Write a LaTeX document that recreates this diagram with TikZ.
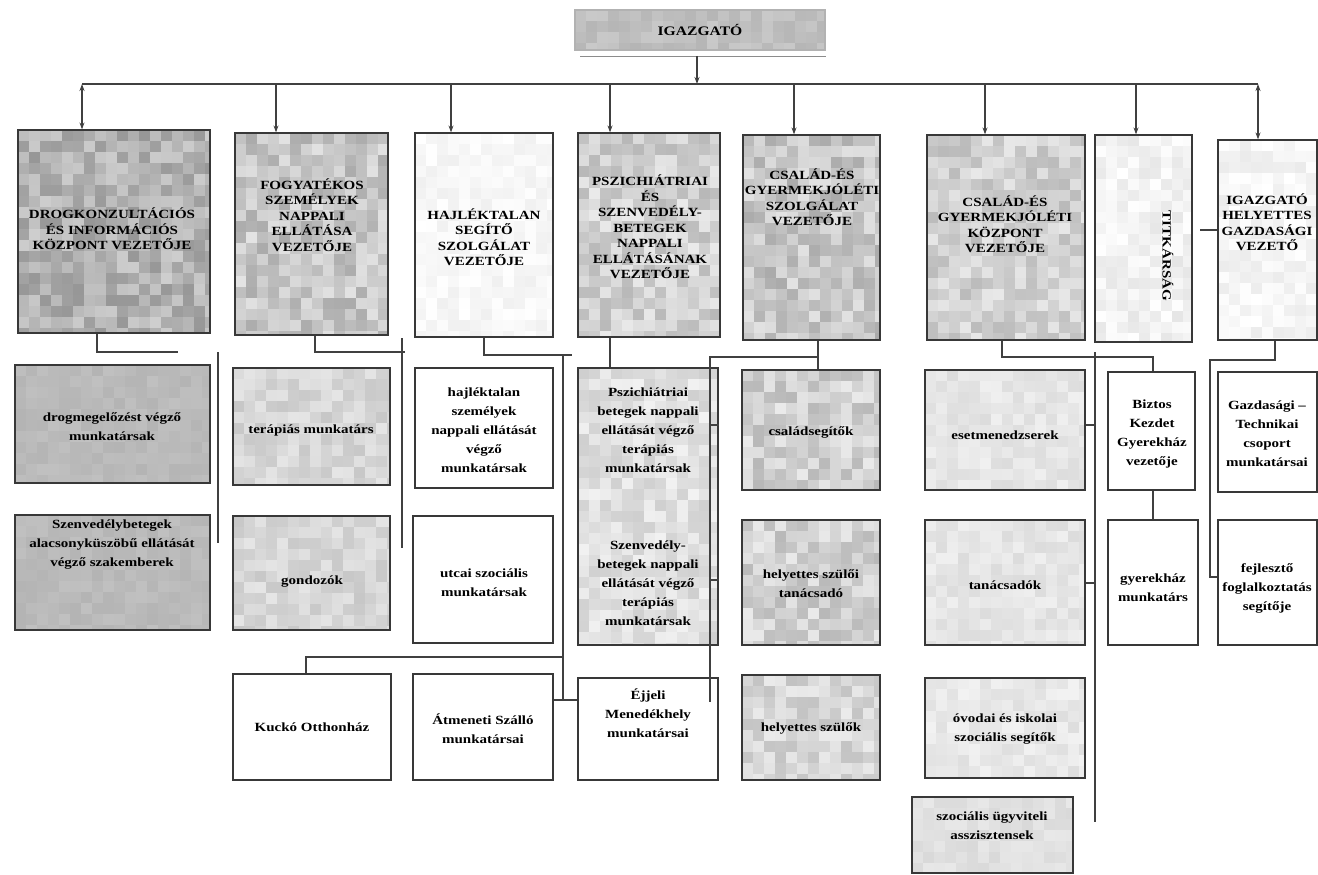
\documentclass[tikz,border=0pt]{standalone}
\usepackage{fontspec}
\setmainfont{Liberation Serif}
\newfontfamily\bxf[FakeStretch=1.2,Ligatures=TeX]{Liberation Serif}
\usetikzlibrary{arrows.meta}
\newcommand\mymosaic[6]{%
 \begin{scope}
  \clip (#1,#2) rectangle (#3,#4);
  \pgfmathtruncatemacro\mnx{((#3)-(#1))/11}
  \pgfmathtruncatemacro\mny{((#4)-(#2))/11}
  \foreach \mi in {0,...,\mnx}{\foreach \mj in {0,...,\mny}{%
    \pgfmathsetmacro\mv{max(0,min(100,(#5)+(#6)*(rnd-0.5)))}%
    \fill[black!\mv] ({(#1)+\mi*11},{(#2)+\mj*11}) rectangle ++(11,11);}}
 \end{scope}}
\newcommand\bnode[6]{\node[obox,#6,minimum width={(#4)-(#2)},minimum height={(#5)-(#3)}] (#1) at ({((#2)+(#4))/2},{((#3)+(#5))/2}) {};}
\begin{document}
\begin{tikzpicture}[x=1pt,y=-1pt,
  obox/.style={draw=black!78,line width=1.2pt,inner sep=0pt},
  ohdr/.style={inner sep=0pt,align=center,font=\bxf\bfseries\fontsize{12.5}{15.5}\selectfont},
  otxt/.style={inner sep=0pt,align=center,font=\bxf\bfseries\fontsize{12.5}{19}\selectfont},
  oline/.style={draw=black!75,line width=1.2pt},
  oarrow/.style={oline,-{Stealth[length=7pt,width=5pt]}},
  odarrow/.style={oline,{Stealth[length=7pt,width=5pt]}-{Stealth[length=7pt,width=5pt]}}]
\useasboundingbox (0,0) rectangle (1318,875);
\fill[white] (0,0) rectangle (1318,875);
\pgfmathsetseed{12}
% textures
\mymosaic{575}{10}{825}{50}{25}{8}
\mymosaic{18}{130}{210}{333}{30}{22}
\mymosaic{235}{133}{388}{335}{22}{22}
\mymosaic{415}{133}{553}{337}{3}{6}
\mymosaic{578}{133}{720}{337}{18}{20}
\mymosaic{743}{135}{880}{340}{22}{22}
\mymosaic{927}{135}{1085}{340}{18}{18}
\mymosaic{1095}{135}{1192}{342}{5}{10}
\mymosaic{1218}{140}{1317}{340}{4}{8}
\mymosaic{15}{365}{210}{483}{27}{5}
\mymosaic{15}{515}{210}{630}{27}{5}
\mymosaic{233}{368}{390}{485}{16}{12}
\mymosaic{233}{516}{390}{630}{16}{12}
\mymosaic{578}{368}{718}{645}{12}{14}
\mymosaic{742}{370}{880}{490}{18}{20}
\mymosaic{742}{520}{880}{645}{18}{20}
\mymosaic{742}{675}{880}{780}{16}{16}
\mymosaic{925}{370}{1085}{490}{10}{8}
\mymosaic{925}{520}{1085}{645}{10}{8}
\mymosaic{925}{678}{1085}{778}{9}{8}
\mymosaic{912}{797}{1073}{873}{12}{6}
% boxes
\bnode{igz}{575}{10}{825}{50}{draw=black!30}
\bnode{h1}{18}{130}{210}{333}{}
\bnode{h2}{235}{133}{388}{335}{}
\bnode{h3}{415}{133}{553}{337}{}
\bnode{h4}{578}{133}{720}{337}{}
\bnode{h5}{743}{135}{880}{340}{}
\bnode{h6}{927}{135}{1085}{340}{}
\bnode{h7}{1095}{135}{1192}{342}{}
\bnode{h8}{1218}{140}{1317}{340}{}
\bnode{drog1}{15}{365}{210}{483}{}
\bnode{drog2}{15}{515}{210}{630}{}
\bnode{terap}{233}{368}{390}{485}{}
\bnode{gond}{233}{516}{390}{630}{}
\bnode{hajl1}{415}{368}{553}{488}{}
\bnode{utcai}{413}{516}{553}{643}{}
\bnode{psz}{578}{368}{718}{645}{}
\bnode{csal}{742}{370}{880}{490}{}
\bnode{helytan}{742}{520}{880}{645}{}
\bnode{helyszul}{742}{675}{880}{780}{}
\bnode{eset}{925}{370}{1085}{490}{}
\bnode{tanacs}{925}{520}{1085}{645}{}
\bnode{ovodai}{925}{678}{1085}{778}{}
\bnode{szocugy}{912}{797}{1073}{873}{}
\bnode{biztos}{1108}{372}{1195}{490}{}
\bnode{gyer}{1108}{520}{1198}{645}{}
\bnode{gazd}{1218}{372}{1317}{492}{}
\bnode{fejl}{1218}{520}{1317}{645}{}
\bnode{kucko}{233}{674}{391}{780}{}
\bnode{atmen}{413}{674}{553}{780}{}
\bnode{ejjeli}{578}{678}{718}{780}{}
% top connectors
\draw[black!45,line width=0.8pt] (580,56) -- (826,56);
\coordinate (busL) at (82,84);
\coordinate (busR) at (1258,84);
\draw[oline,line width=1.8pt] (busL) -- (busR);
\draw[oarrow] (697,56) -- (697,84);
\draw[odarrow] (busL) -- (82,0 |- h1.north);
\draw[oarrow] (276,84) -- (276,0 |- h2.north);
\draw[oarrow] (451,84) -- (451,0 |- h3.north);
\draw[oarrow,line width=1.8pt] (610,84) -- (610,0 |- h4.north);
\draw[oarrow] (794,84) -- (794,0 |- h5.north);
\draw[oarrow] (985,84) -- (985,0 |- h6.north);
\draw[oarrow] (1136,84) -- (1136,0 |- h7.north);
\draw[odarrow] (busR) -- (1258,0 |- h8.north);
% lower connectors
\draw[oline] (97,0 |- h1.south) -- (97,352) -- (178,352);
\draw[oline] (218,352) -- (218,543);
\draw[oline] (315,0 |- h2.south) -- (315,352) -- (405,352);
\draw[oline] (402,338) -- (402,548);
\draw[oline] (484,0 |- h3.south) -- (484,355) -- (572,355);
\draw[oline] (563,355) -- (563,700);
\draw[oline] (563,657) -- (306,657) -- (306,0 |- kucko.north);
\draw[oline] (atmen.east |- 0,700) -- (ejjeli.west |- 0,700);
\draw[oline,line width=2.4pt] (610,0 |- h4.south) -- (610,0 |- psz.north);
\draw[oline] (818,0 |- h5.south) -- (818,0 |- csal.north);
\draw[oline] (818,357) -- (710,357) -- (710,702);
\draw[oline] (710,425) -- (psz.east |- 0,425);
\draw[oline] (710,580) -- (psz.east |- 0,580);
\draw[oline] (1002,0 |- h6.south) -- (1002,357) -- (1153,357) -- (1153,0 |- biztos.north);
\draw[oline] (1095,352) -- (1095,822);
\draw[oline] (eset.east |- 0,425) -- (1095,425);
\draw[oline] (tanacs.east |- 0,583) -- (1095,583);
\draw[oline] (1153,0 |- biztos.south) -- (1153,0 |- gyer.north);
\draw[oline,line width=2pt] (1275,0 |- h8.south) -- (1275,360) -- (1210,360) -- (1210,577) -- (fejl.west |- 0,577);
\draw[oline] (1200,230) -- (h8.west |- 0,230);
% texts
\node[ohdr,font=\bxf\bfseries\fontsize{13}{15}\selectfont] (igzt) at (700,30) {IGAZGATÓ};
\node[ohdr] (h1t) at (112,229) {DROGKONZULTÁCIÓS\\ÉS INFORMÁCIÓS\\KÖZPONT VEZETŐJE};
\node[ohdr] (h2t) at (312,215) {FOGYATÉKOS\\SZEMÉLYEK\\NAPPALI\\ELLÁTÁSA\\VEZETŐJE};
\node[ohdr] (h3t) at (484,237) {HAJLÉKTALAN\\SEGÍTŐ\\SZOLGÁLAT\\VEZETŐJE};
\node[ohdr] (h4t) at (650,227) {PSZICHIÁTRIAI\\ÉS\\SZENVEDÉLY-\\BETEGEK\\NAPPALI\\ELLÁTÁSÁNAK\\VEZETŐJE};
\node[ohdr] (h5t) at (812,197) {CSALÁD-ÉS\\GYERMEKJÓLÉTI\\SZOLGÁLAT\\VEZETŐJE};
\node[ohdr] (h6t) at (1005,224) {CSALÁD-ÉS\\GYERMEKJÓLÉTI\\KÖZPONT\\VEZETŐJE};
\node[ohdr,rotate=-90] (h7t) at (1168,256) {TITKÁRSÁG};
\node[ohdr] (h8t) at (1267,222) {IGAZGATÓ\\HELYETTES\\GAZDASÁGI\\VEZETŐ};
\node[otxt] (drog1t) at (112,427) {drogmegelőzést végző\\munkatársak};
\node[otxt] (drog2t) at (112,545) {Szenvedélybetegek\\alacsonyküszöbű ellátását\\végző szakemberek};
\node[otxt] (terapt) at (311,430) {terápiás munkatárs};
\node[otxt] (gondt) at (312,582) {gondozók};
\node[otxt] (hajl1t) at (484,430) {hajléktalan\\személyek\\nappali ellátását\\végző\\munkatársak};
\node[otxt] (utcait) at (484,583) {utcai szociális\\munkatársak};
\node[otxt] (psz1t) at (648,430) {Pszichiátriai\\betegek nappali\\ellátását végző\\terápiás\\munkatársak};
\node[otxt] (psz2t) at (648,583) {Szenvedély-\\betegek nappali\\ellátását végző\\terápiás\\munkatársak};
\node[otxt] (csalt) at (811,432) {családsegítők};
\node[otxt] (helytant) at (811,584) {helyettes szülői\\tanácsadó};
\node[otxt] (helyszult) at (811,728) {helyettes szülők};
\node[otxt] (esett) at (1005,435) {esetmenedzserek};
\node[otxt] (tanacst) at (1005,585) {tanácsadók};
\node[otxt] (ovodait) at (1005,729) {óvodai és iskolai\\szociális segítők};
\node[otxt] (szocugyt) at (992,826) {szociális ügyviteli\\asszisztensek};
\node[otxt] (biztost) at (1152,434) {Biztos\\Kezdet\\Gyerekház\\vezetője};
\node[otxt] (gyert) at (1153,588) {gyerekház\\munkatárs};
\node[otxt] (gazdt) at (1267,434) {Gazdasági –\\Technikai\\csoport\\munkatársai};
\node[otxt] (fejlt) at (1267,588) {fejlesztő\\foglalkoztatás\\segítője};
\node[otxt] (kuckot) at (312,727) {Kuckó Otthonház};
\node[otxt] (atment) at (483,729) {Átmeneti Szálló\\munkatársai};
\node[otxt] (ejjelit) at (648,713) {Éjjeli\\Menedékhely\\munkatársai};
\end{tikzpicture}
\end{document}
